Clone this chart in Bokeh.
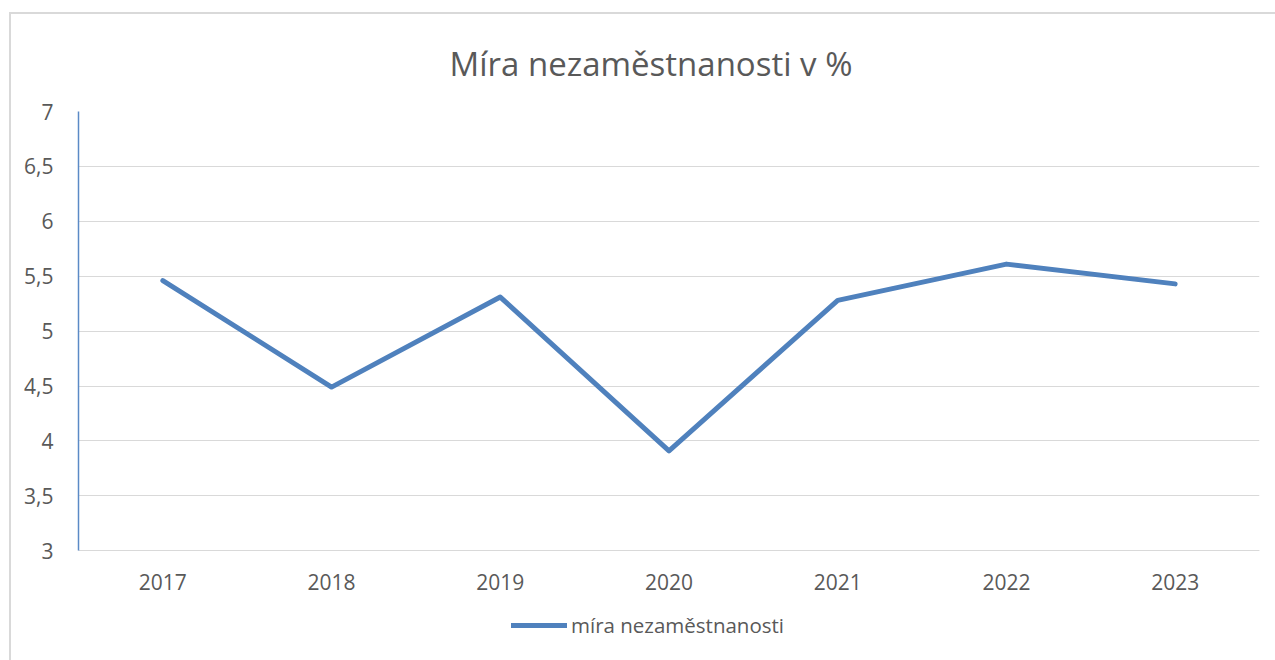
from bokeh.plotting import figure
from bokeh.models import (ColumnDataSource, FactorRange, Range1d, FixedTicker,
                          CustomJSTickFormatter, Legend, LegendItem, InlineStyleSheet)
from bokeh.embed import file_html
from bokeh.resources import INLINE

years = ["2017", "2018", "2019", "2020", "2021", "2022", "2023"]
unemployment = [5.46, 4.49, 5.31, 3.91, 5.28, 5.61, 5.43]
y_ticks = [3, 3.5, 4, 4.5, 5, 5.5, 6, 6.5, 7]

title_text = "Míra nezaměstnanosti v %"
series_name = "míra nezaměstnanosti"

FONT = "Open Sans"
TXT = "#595959"
GRID = "#d9d9d9"
BLUE = "#4f81bd"

src = ColumnDataSource(dict(x=years, y=unemployment))

border_css = InlineStyleSheet(css="""
:host::after {
  content: "";
  position: absolute;
  left: 9px; top: 12px; right: 0px; bottom: 0px;
  border-left: 2px solid #d9d9d9;
  border-top: 2px solid #d9d9d9;
  pointer-events: none;
  z-index: 10;
}
""")

# frame extends to the bottom of the picture; the value axis starts at 3
p = figure(x_range=FactorRange(*years), y_range=Range1d(2, 7),
           frame_width=1181, frame_height=549,
           min_border_left=78, min_border_right=16,
           min_border_top=111, min_border_bottom=0,
           output_backend="svg", toolbar_location=None,
           stylesheets=[border_css])
p.x_range.range_padding = 0
p.outline_line_color = None
p.background_fill_color = "white"
p.border_fill_color = "white"

p.title.text = title_text
p.title.align = "left"
p.title.offset = 371
p.title.standoff = 52
p.title.text_font = FONT
p.title.text_font_size = "33px"
p.title.text_font_style = "normal"
p.title.text_color = TXT

r = p.line("x", "y", source=src, line_color=BLUE, line_width=5,
           line_cap="round", line_join="round")

# axes
p.yaxis.ticker = FixedTicker(ticks=y_ticks)
p.yaxis.bounds = (3, 7)
p.yaxis.formatter = CustomJSTickFormatter(code="return tick.toString().replace('.', ',');")
p.yaxis.axis_line_color = "#5b8ac6"
p.yaxis.axis_line_width = 1.5
p.yaxis.major_tick_line_color = None
p.yaxis.minor_tick_line_color = None
p.yaxis.major_label_standoff = 19
p.yaxis.major_label_text_font = FONT
p.yaxis.major_label_text_font_size = "21px"
p.yaxis.major_label_text_color = TXT

p.xaxis.fixed_location = 3
p.xaxis.axis_line_color = GRID
p.xaxis.axis_line_width = 1.2
p.xaxis.major_tick_line_color = None
p.xaxis.minor_tick_line_color = None
p.xaxis.major_label_standoff = 17
p.xaxis.major_label_text_font = FONT
p.xaxis.major_label_text_font_size = "21px"
p.xaxis.major_label_text_color = TXT

p.xgrid.grid_line_color = None
p.ygrid.grid_line_color = GRID
p.ygrid.grid_line_width = 1.2
p.ygrid.ticker = FixedTicker(ticks=y_ticks)

legend = Legend(items=[LegendItem(label=series_name, renderers=[r])],
                location=(433, 21), orientation="horizontal",
                label_text_font=FONT, label_text_font_size="20.5px",
                label_text_color=TXT, glyph_width=56, glyph_height=20,
                label_height=20, label_standoff=4, border_line_color=None,
                background_fill_alpha=0, margin=0, padding=0)
p.add_layout(legend, "center")

open("out.html", "w").write(file_html(p, INLINE))
